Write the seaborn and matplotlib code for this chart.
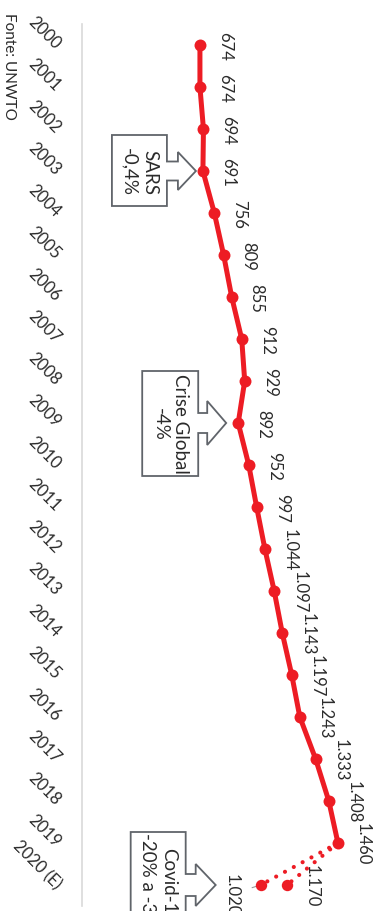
import pandas as pd
import matplotlib.pyplot as plt
import seaborn as sns
from matplotlib.patches import Polygon
from matplotlib.transforms import Affine2D, ScaledTranslation

# chegadas de turistas internacionais (milhões), fonte UNWTO
anos = ['2000', '2001', '2002', '2003', '2004', '2005', '2006', '2007', '2008', '2009',
        '2010', '2011', '2012', '2013', '2014', '2015', '2016', '2017', '2018', '2019',
        '2020 (E)']
chegadas = [674, 674, 694, 691, 756, 809, 855, 912, 929, 892,
            952, 997, 1044, 1097, 1143, 1197, 1243, 1333, 1408, 1460]
estimativas_2020 = [1170, 1020]

eventos = ['SARS\n-0,4%', 'Crise Global\n-4%', 'Covid-19\n-20% a -30%']
eventos_ano = ['2003', '2009', '2020 (E)']

VERMELHO = '#ED1C24'
CINZA = '#60646a'
TEXTO = '#2b2b2b'

sns.set_theme(style='white')
plt.rcParams['font.family'] = ['Lato', 'DejaVu Sans']

df = pd.DataFrame({'ano': anos[:-1], 'pos': range(len(chegadas)), 'valor': chegadas})
pos_2020 = len(anos) - 1

fig = plt.figure(figsize=(3.82, 9.12), dpi=100)
ax = fig.add_axes([81.6 / 382, 5 / 912, 300.4 / 382, 882 / 912])

# linha principal (gráfico "deitado": anos no eixo vertical)
sns.lineplot(data=df, x='valor', y='pos', orient='y', sort=False, color=VERMELHO,
             lw=3.6, marker='o', markersize=8.6, markeredgewidth=0, ax=ax, zorder=3)

# estimativas 2020 (pontilhado)
for est in estimativas_2020:
    sns.lineplot(x=[chegadas[-1], est], y=[pos_2020 - 1, pos_2020], orient='y', sort=False,
                 color=VERMELHO, lw=3, linestyle=(0, (0.01, 2.4)), dash_capstyle='round',
                 ax=ax, zorder=3)
    ax.plot(est, pos_2020, 'o', color=VERMELHO, markersize=8.2, markeredgewidth=0, zorder=4)

# rótulos de valores
def fmt(v):
    return f"{v:,}".replace(",", ".")

for i, v in enumerate(chegadas):
    ax.annotate(fmt(v), xy=(v, i), xytext=(18, 0), textcoords='offset points',
                rotation=-90, ha='center', va='center', fontsize=12, color=TEXTO)
ax.annotate(fmt(estimativas_2020[0]), xy=(estimativas_2020[0], pos_2020), xytext=(17.5, 0),
            textcoords='offset points', rotation=-90, ha='center', va='center',
            fontsize=12, color=TEXTO)
ax.annotate(fmt(estimativas_2020[1]), xy=(estimativas_2020[1], pos_2020), xytext=(-21, -6.5),
            textcoords='offset points', rotation=-90, ha='center', va='center',
            fontsize=12, color=TEXTO,
            arrowprops=dict(arrowstyle='-', color='#999999', lw=0.8, shrinkA=7, shrinkB=3))


# caixas de destaque com seta (offsets em pixels, y para baixo)
def callout(x, y, box, tip, head_x, head_h, shaft_h, text):
    tr = Affine2D().scale(1, -1) + ScaledTranslation(x, y, ax.transData)
    x0, x1, y0, y1 = box
    verts = [(x0, y0), (x1, y0), (x1, -shaft_h), (head_x, -shaft_h), (head_x, -head_h),
             (tip, 0), (head_x, head_h), (head_x, shaft_h), (x1, shaft_h), (x1, y1), (x0, y1)]
    ax.add_patch(Polygon(verts, closed=True, facecolor='white', edgecolor=CINZA, lw=1.3,
                         transform=tr, clip_on=False, zorder=5))
    cx = (x0 + x1) / 2 * 0.72
    ax.annotate(text, xy=(x, y), xytext=(cx, 0), textcoords='offset points', rotation=-90,
                ha='center', va='center', fontsize=13.5, color=TEXTO, linespacing=1.25,
                zorder=6, annotation_clip=False)


i_sars = anos.index(eventos_ano[0])
callout(chegadas[i_sars], i_sars, (-91, -36, -36, 35), -7, -25, 19, 9.5, eventos[0])
i_crise = anos.index(eventos_ano[1])
callout(chegadas[i_crise], i_crise, (-96, -40, -52, 53), -12, -31, 22, 10, eventos[1])
callout(estimativas_2020[1], pos_2020, (-130, -75, -53, 60), -45, -65, 21, 11, eventos[2])

# eixos
ax.set_xlim(0, 1711)
ax.set_ylim(20.5, -0.5)
ax.set_yticks(range(len(anos)))
ax.set_yticklabels(anos)
ax.set_xticks([])
ax.set_xlabel('')
ax.set_ylabel('')
ax.tick_params(axis='y', length=0, pad=16, labelsize=12, labelcolor=TEXTO)
plt.setp(ax.get_yticklabels(), rotation=-45, ha='right', rotation_mode='anchor')
for s in ['top', 'right', 'bottom']:
    ax.spines[s].set_visible(False)
ax.spines['left'].set_color('#d9d9d9')
ax.spines['left'].set_linewidth(1.2)
ax.patch.set_alpha(0)

fig.text(2 / 382, 1 - 13 / 912, 'Fonte: UNWTO', rotation=-90, ha='left', va='top',
         fontsize=11, color=TEXTO)

fig.savefig('out.png', dpi=100)
